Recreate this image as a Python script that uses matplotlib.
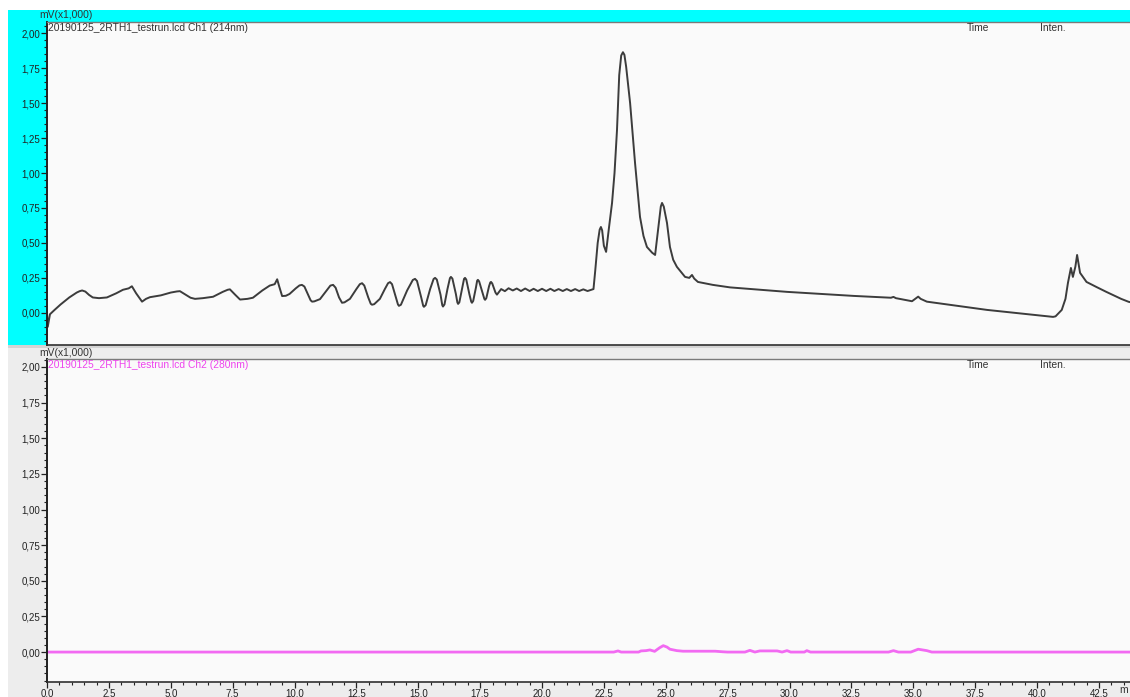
import matplotlib
matplotlib.use("Agg")
import matplotlib.pyplot as plt
from matplotlib.patches import Rectangle
from matplotlib.ticker import MultipleLocator, FuncFormatter

plt.rcParams['font.family'] = ['Liberation Sans', 'DejaVu Sans']

# Ch1 (214 nm) trace: retention time (min) / signal (mV x1000)
ch1_time = [
    0.00, 0.03, 0.12, 0.30, 0.55, 0.90, 1.20, 1.32, 1.42, 1.55, 1.70, 1.85,
    2.10, 2.42, 2.80, 3.07, 3.30, 3.43, 3.60, 3.84, 4.00, 4.16, 4.60, 5.00,
    5.25, 5.37, 5.60, 5.80, 5.98, 6.30, 6.71, 7.10, 7.30, 7.39, 7.60, 7.80,
    8.10, 8.32, 8.70, 9.00, 9.20, 9.30, 9.38, 9.50, 9.65,
    9.80, 10.05, 10.20, 10.30, 10.40, 10.55, 10.65, 10.71, 10.80, 11.03,
    11.30, 11.45, 11.56, 11.66, 11.80, 11.92, 12.02, 12.24, 12.50, 12.64,
    12.73, 12.82, 12.98, 13.08, 13.13, 13.22, 13.45, 13.65, 13.78, 13.86,
    13.94, 14.10, 14.18, 14.22, 14.30, 14.55, 14.78, 14.87, 14.95, 15.12,
    15.20, 15.23, 15.30, 15.48, 15.62, 15.68, 15.75, 15.90, 15.97, 16.00,
    16.06, 16.18, 16.28, 16.32, 16.38, 16.52, 16.58, 16.61, 16.66, 16.78,
    16.85, 16.89, 16.94, 17.07, 17.14, 17.17, 17.22, 17.33, 17.38, 17.41,
    17.46, 17.60, 17.67, 17.70, 17.75, 17.86, 17.91, 17.94, 17.99, 18.12,
    18.18,
    18.35, 18.50, 18.65, 18.82, 18.98, 19.15, 19.32, 19.50, 19.66, 19.83,
    20.00, 20.17, 20.34, 20.50, 20.67, 20.84, 21.00, 21.17, 21.34, 21.50,
    21.67, 21.84, 22.00, 22.08,
    22.15, 22.25, 22.33, 22.38, 22.43, 22.50, 22.59, 22.70, 22.83, 22.93,
    23.03, 23.12, 23.20, 23.27, 23.33, 23.40, 23.56, 23.76, 23.96, 24.10,
    24.24, 24.45, 24.57, 24.69, 24.80, 24.85, 24.92, 25.05, 25.17, 25.30,
    25.45, 25.78, 25.95, 26.06, 26.15, 26.30, 26.90, 27.60, 29.90, 32.60,
    34.10, 34.20, 34.30, 34.95, 35.20, 35.30, 35.55, 37.98, 40.65, 40.75,
    41.00, 41.15, 41.25, 41.37, 41.45, 41.55, 41.62, 41.74, 42.00, 42.40,
    42.80, 43.10, 43.40, 43.70, 43.80,
]
ch1_signal = [
    0.000, -0.100, -0.010, 0.020, 0.060, 0.110, 0.145, 0.155, 0.160, 0.152,
    0.128, 0.110, 0.105, 0.110, 0.140, 0.165, 0.175, 0.190, 0.140, 0.080,
    0.100, 0.112, 0.125, 0.145, 0.153, 0.155, 0.130, 0.108, 0.100, 0.105,
    0.115, 0.150, 0.165, 0.168, 0.130, 0.095, 0.100, 0.108, 0.160, 0.195,
    0.205, 0.240, 0.190, 0.120, 0.122,
    0.135, 0.175, 0.196, 0.200, 0.188, 0.130, 0.090, 0.080, 0.082, 0.098,
    0.160, 0.195, 0.200, 0.180, 0.110, 0.072, 0.075, 0.100, 0.170, 0.205,
    0.212, 0.195, 0.110, 0.065, 0.058, 0.062, 0.100, 0.170, 0.212, 0.220,
    0.205, 0.110, 0.060, 0.050, 0.058, 0.160, 0.235, 0.243, 0.228, 0.110,
    0.050, 0.043, 0.055, 0.170, 0.242, 0.250, 0.238, 0.130, 0.055, 0.045,
    0.060, 0.170, 0.248, 0.257, 0.245, 0.135, 0.075, 0.064, 0.075, 0.180,
    0.243, 0.250, 0.238, 0.130, 0.080, 0.072, 0.085, 0.180, 0.230, 0.236,
    0.225, 0.140, 0.100, 0.093, 0.105, 0.190, 0.217, 0.221, 0.210, 0.145,
    0.130,
    0.170, 0.155, 0.176, 0.160, 0.174, 0.156, 0.174, 0.156, 0.172, 0.156,
    0.172, 0.156, 0.172, 0.156, 0.170, 0.156, 0.170, 0.156, 0.170, 0.156,
    0.168, 0.156, 0.165, 0.170,
    0.300, 0.500, 0.595, 0.614, 0.590, 0.480, 0.436, 0.600, 0.786, 1.000,
    1.307, 1.700, 1.840, 1.864, 1.845, 1.760, 1.500, 1.070, 0.686, 0.550,
    0.471, 0.430, 0.414, 0.593, 0.760, 0.786, 0.760, 0.643, 0.471, 0.380,
    0.329, 0.257, 0.250, 0.271, 0.245, 0.221, 0.200, 0.182, 0.150, 0.121,
    0.108, 0.114, 0.105, 0.083, 0.116, 0.100, 0.080, 0.021, -0.029, -0.025,
    0.021, 0.100, 0.214, 0.321, 0.257, 0.330, 0.414, 0.286, 0.221, 0.185,
    0.150, 0.125, 0.100, 0.079, 0.075,
]

# Ch2 (280 nm) trace
ch2_time = [
    0.00, 22.90, 23.07, 23.20, 23.90, 24.00, 24.20, 24.36, 24.55, 24.75,
    24.90, 25.05, 25.17, 25.45, 25.70, 27.00, 27.30, 27.50, 28.20, 28.40,
    28.60, 28.80, 29.50, 29.70, 29.90, 30.05, 30.60, 30.70, 30.85, 34.00,
    34.20, 34.40, 34.90, 35.20, 35.55, 35.75, 43.80,
]
ch2_signal = [
    0.000, 0.000, 0.008, 0.000, 0.000, 0.008, 0.010, 0.015, 0.005, 0.030,
    0.045, 0.035, 0.020, 0.010, 0.006, 0.006, 0.002, 0.000, 0.000, 0.012,
    0.000, 0.008, 0.008, 0.000, 0.010, 0.000, 0.000, 0.010, 0.000, 0.000,
    0.010, 0.000, 0.000, 0.020, 0.010, 0.000, 0.000,
]

y_ticks = [0.0, 0.25, 0.5, 0.75, 1.0, 1.25, 1.5, 1.75, 2.0]
x_ticks = [0.0, 2.5, 5.0, 7.5, 10.0, 12.5, 15.0, 17.5, 20.0, 22.5, 25.0,
           27.5, 30.0, 32.5, 35.0, 37.5, 40.0, 42.5]

W, H = 1130, 697
fig = plt.figure(figsize=(W / 100, H / 100), dpi=100, facecolor='white')


def px_box(x0, y0, x1, y1):
    # pixel box (top-left origin) -> figure fraction rect
    return [x0 / W, 1 - y1 / H, (x1 - x0) / W, (y1 - y0) / H]


def add_bg(x0, y0, x1, y1, color):
    l, b, w, h = px_box(x0, y0, x1, y1)
    fig.add_artist(Rectangle((l, b), w, h, transform=fig.transFigure,
                             facecolor=color, edgecolor='none', zorder=-10))


# window background: active (cyan) pane on top, grey pane below
add_bg(8, 10, W, 22, '#00ffff')
add_bg(8, 10, 47, 345, '#00ffff')
add_bg(8, 345, W, H, '#ededed')
add_bg(8, 345, W, 348, '#d4d4d4')

ax1 = fig.add_axes(px_box(47, 22, W + 2, 345))
ax2 = fig.add_axes(px_box(47, 359, W + 2, 682))

ax1.plot(ch1_time, ch1_signal, color='#3c3c3c', lw=1.4,
         solid_joinstyle='round')
ax2.plot(ch2_time, ch2_signal, color='#f26af2', lw=2.0,
         solid_joinstyle='round')

fmt_y = FuncFormatter(lambda v, pos: f"{v:.2f}".replace('.', ','))
TXT = 7.4
HEAD_Y = 1 - 6 / 323  # header text line, just under the top frame

for ax, ylim in ((ax1, (-0.23, 2.08)), (ax2, (-0.21, 2.056))):
    ax.set_facecolor('#fafafa')
    ax.set_xlim(0, (W + 2 - 47) / 24.75)
    ax.set_ylim(*ylim)
    ax.set_yticks(y_ticks)
    ax.yaxis.set_major_formatter(fmt_y)
    ax.yaxis.set_minor_locator(MultipleLocator(0.05))
    ax.set_xticks(x_ticks)
    ax.xaxis.set_minor_locator(MultipleLocator(0.5))
    ax.tick_params(axis='both', which='major', direction='out', length=4,
                   width=0.9, labelsize=7, pad=1, colors='#222222')
    ax.tick_params(axis='both', which='minor', direction='out', length=2,
                   width=0.8, colors='#222222')
    ax.spines['left'].set_linewidth(1.4)
    ax.spines['left'].set_color('#202020')
    ax.spines['bottom'].set_linewidth(1.2)
    ax.spines['bottom'].set_color('#303030')
    ax.spines['top'].set_color('#7a7a7a')
    ax.spines['top'].set_linewidth(1.0)
    ax.spines['right'].set_visible(False)
    ax.text(0.848, HEAD_Y, 'Time', transform=ax.transAxes, fontsize=TXT,
            va='center', ha='left', color='#333333')
    ax.text(0.915, HEAD_Y, 'Inten.', transform=ax.transAxes, fontsize=TXT,
            va='center', ha='left', color='#333333')

ax1.tick_params(axis='x', which='both', labelbottom=False, length=0)

ax1.text(0.001, HEAD_Y, '20190125_2RTH1_testrun.lcd Ch1 (214nm)',
         transform=ax1.transAxes, fontsize=TXT, va='center', ha='left',
         color='#333333')
ax2.text(0.001, HEAD_Y, '20190125_2RTH1_testrun.lcd Ch2 (280nm)',
         transform=ax2.transAxes, fontsize=TXT, va='center', ha='left',
         color='#ee44ee')

fig.text(39 / W, 1 - 15.5 / H, 'mV(x1,000)', fontsize=TXT, va='center',
         ha='left', color='#333333')
fig.text(39 / W, 1 - 352.5 / H, 'mV(x1,000)', fontsize=TXT, va='center',
         ha='left', color='#333333')
# time unit label at the right end of the x axis
fig.text(1119 / W, 1 - 690 / H, 'm', fontsize=TXT, va='center',
         ha='left', color='#333333')

fig.savefig('out.png', dpi=100, facecolor=fig.get_facecolor())
